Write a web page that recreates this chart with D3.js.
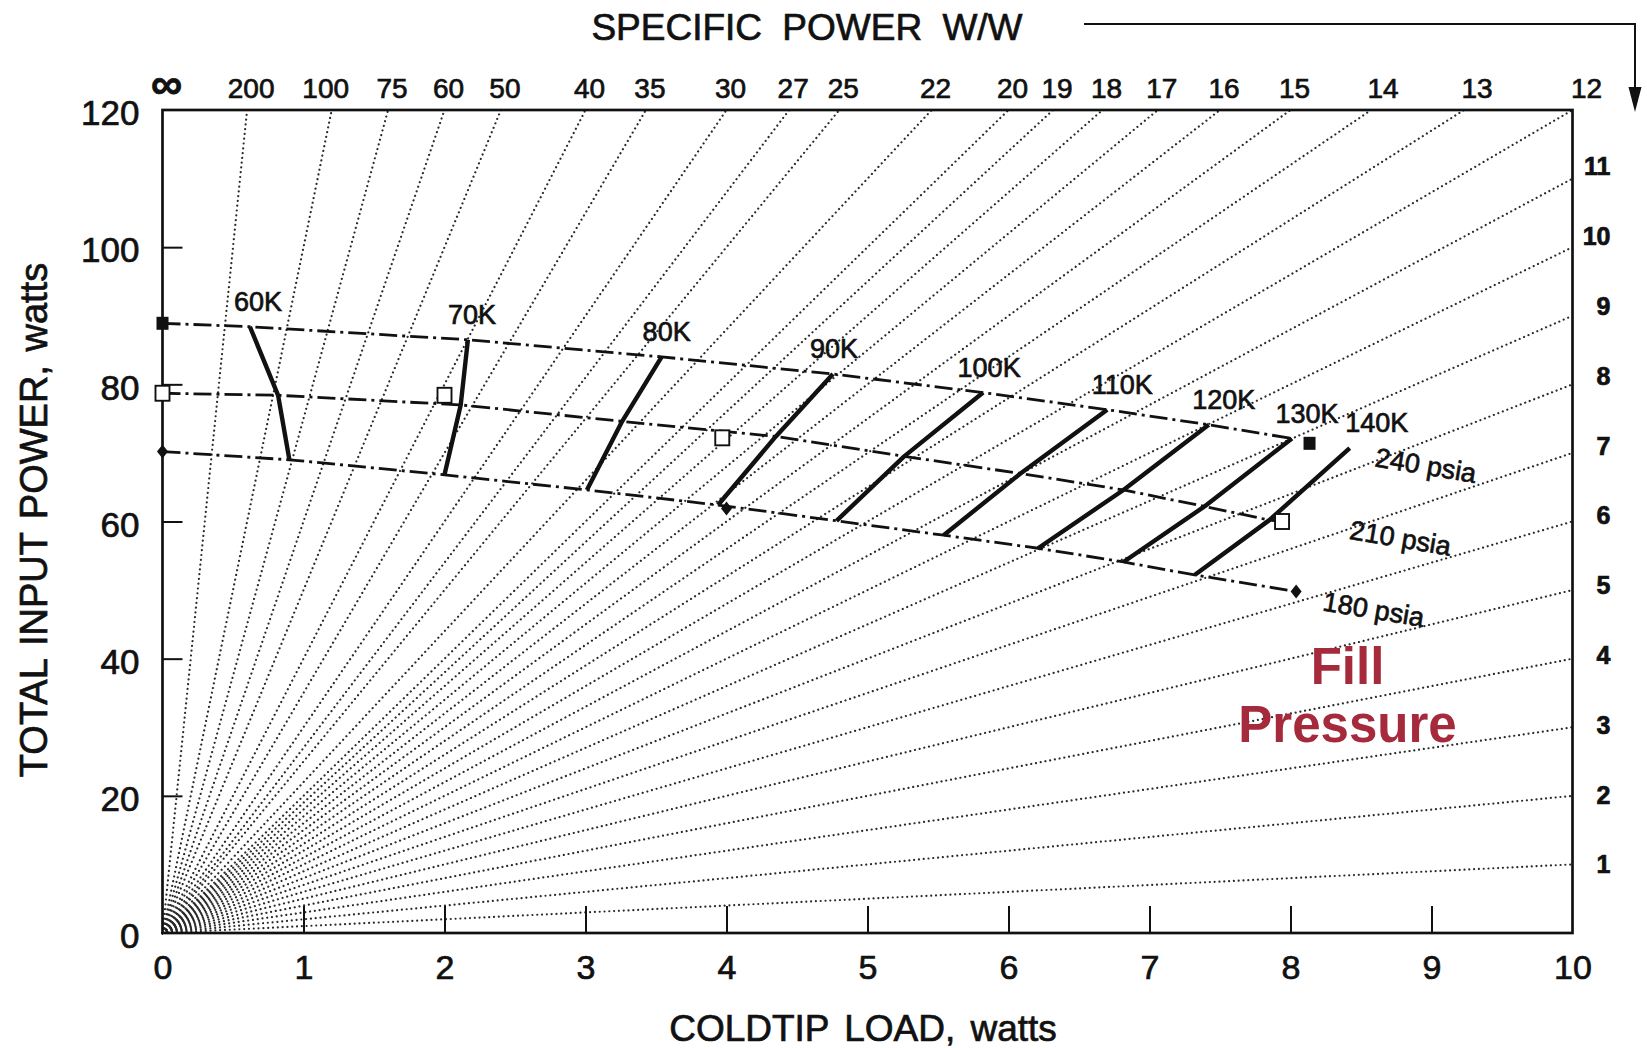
<!DOCTYPE html>
<html>
<head>
<meta charset="utf-8">
<script src="https://cdn.jsdelivr.net/npm/d3@7"></script>
<style>
  html, body { margin: 0; padding: 0; background: #fff; }
  svg { display: block; }
  text { font-family: "Liberation Sans", Arial, Helvetica, sans-serif; fill: #111; stroke: #111; stroke-width: 0.7px; }
  text.annotation { stroke: none; }
</style>
</head>
<body>
<script>
// Specific power rays (W/W): labelled along the top edge and down the right edge
const topSpecific = [Infinity, 200, 100, 75, 60, 50, 40, 35, 30, 27, 25, 22, 20, 19, 18, 17, 16, 15, 14, 13, 12];
const rightSpecific = [11, 10, 9, 8, 7, 6, 5, 4, 3, 2, 1];

// Axis ticks
const loadTicks = [0, 1, 2, 3, 4, 5, 6, 7, 8, 9, 10];
const powerTicks = [0, 20, 40, 60, 80, 100, 120];

// Cold-tip temperature lines, one point per fill pressure
const temperatures = ["60K", "70K", "80K", "90K", "100K", "110K", "120K", "130K", "140K"];
const load180 = [0.90, 2.00, 3.01, 3.94, 4.78, 5.54, 6.21, 6.815, 7.32];
const power180 = [69.0, 66.8, 64.6, 62.4, 60.1, 58.0, 56.1, 54.1, 52.2];
const load210 = [0.82, 2.115, 3.26, 4.35, 5.26, 6.085, 6.815, 7.39, 7.85];
const power210 = [78.4, 77.0, 74.6, 72.4, 69.5, 67.0, 64.6, 62.2, 60.2];
const load240 = [0.62, 2.166, 3.54, 4.755, 5.82, 6.70, 7.42, 8.01, 8.42];
const power240 = [88.4, 86.5, 84.0, 81.5, 78.8, 76.3, 74.1, 72.1, 70.7];

// Measured points for each fill pressure
const pressures = ["180 psia", "210 psia", "240 psia"];
const marker180Load = [0, 4.0, 8.04];
const marker180Power = [70.2, 61.9, 49.8];
const marker210Load = [0, 2.0, 3.97, 7.94];
const marker210Power = [78.7, 78.4, 72.2, 60.0];
const marker240Load = [0, 8.135];
const marker240Power = [88.9, 71.4];
// how many temperature points each pressure curve runs through, and whether it runs on to its last measured point
const curveReach = [9, 9, 8];
const curveTail = [true, true, false];

// ---- layout ----
const W = 1647, H = 1048;
const plotLeft = 162.5, plotRight = 1572.5, plotTop = 110, plotBottom = 933;

const svg = d3.select("body").append("svg").attr("width", W).attr("height", H);
svg.append("rect").attr("width", W).attr("height", H).attr("fill", "#fff");

const x = d3.scaleLinear().domain([0, 10]).range([plotLeft, plotRight]);
const y = d3.scaleLinear().domain([0, 120]).range([plotBottom, plotTop]);

// ---- dotted specific-power rays from the origin ----
const rays = topSpecific.filter(s => isFinite(s)).concat(rightSpecific);
const rayEnd = s => (s * 10 >= 120 ? [120 / s, 120] : [10, s * 10]);
svg.append("g").selectAll("line").data(rays).join("line")
  .attr("x1", x(0)).attr("y1", y(0))
  .attr("x2", s => x(rayEnd(s)[0]))
  .attr("y2", s => y(rayEnd(s)[1]))
  .attr("stroke", "#2a2a2a")
  .attr("stroke-width", 2.2)
  .attr("stroke-linecap", "round")
  .attr("stroke-dasharray", "0.01 4.8");

// ---- axes ----
const axisFont = 34;
const gx = svg.append("g").attr("transform", `translate(0,${plotBottom})`);
gx.call(d3.axisBottom(x).tickValues(loadTicks.slice(1, -1)).tickSize(-27).tickFormat(""));
gx.select(".domain").remove();
gx.selectAll(".tick line").attr("stroke", "#111").attr("stroke-width", 2);

const gxl = svg.append("g").attr("transform", `translate(0,${plotBottom})`);
gxl.call(d3.axisBottom(x).tickValues(loadTicks).tickSize(0).tickPadding(22).tickFormat(d3.format("d")));
gxl.select(".domain").remove();
gxl.selectAll("text").attr("font-size", axisFont).attr("fill", "#111")
  .style("font-family", "'Liberation Sans', Arial, sans-serif");

const gy = svg.append("g").attr("transform", `translate(${plotLeft},0)`);
gy.call(d3.axisLeft(y).tickValues(powerTicks.slice(1, -1)).tickSize(-20).tickFormat(""));
gy.select(".domain").remove();
gy.selectAll(".tick line").attr("stroke", "#111").attr("stroke-width", 2);

const gyl = svg.append("g").attr("transform", `translate(${plotLeft},0)`);
gyl.call(d3.axisLeft(y).tickValues(powerTicks).tickSize(0).tickPadding(23).tickFormat(d3.format("d")));
gyl.select(".domain").remove();
gyl.selectAll("text").attr("font-size", axisFont + 1).attr("dy", "0.42em").attr("fill", "#111")
  .style("font-family", "'Liberation Sans', Arial, sans-serif");

// top scale: specific power at the upper edge
const topNudge = { "100": -10, "14": 8, "13": 9, "12": 10 };
svg.append("g").selectAll("text").data(topSpecific).join("text")
  .attr("x", s => (isFinite(s) ? x(120 / s) : x(0)) + 4 + (topNudge[String(s)] || 0))
  .attr("y", s => (isFinite(s) ? 98 : 99))
  .attr("text-anchor", "middle")
  .attr("font-size", s => (isFinite(s) ? 28 : 44))
  .attr("font-weight", s => (isFinite(s) ? "normal" : "bold"))
  .text(s => (isFinite(s) ? String(s) : "∞"));

// right scale: specific power down the right edge
svg.append("g").selectAll("text").data(rightSpecific).join("text")
  .attr("x", plotRight + 38)
  .attr("y", s => y(s * 10) - (s - 1) * 1.23 + 9)
  .attr("text-anchor", "end")
  .attr("font-size", 25)
  .attr("font-weight", "bold")
  .text(s => String(s));

// plot frame
svg.append("rect")
  .attr("x", plotLeft).attr("y", plotTop)
  .attr("width", plotRight - plotLeft).attr("height", plotBottom - plotTop)
  .attr("fill", "none").attr("stroke", "#111").attr("stroke-width", 2.7);

// ---- pressure curves (dash-dot) ----
const tempPts = [
  load180.map((l, i) => [l, power180[i]]),
  load210.map((l, i) => [l, power210[i]]),
  load240.map((l, i) => [l, power240[i]])
];
const markerPts = [
  marker180Load.map((l, i) => [l, marker180Power[i]]),
  marker210Load.map((l, i) => [l, marker210Power[i]]),
  marker240Load.map((l, i) => [l, marker240Power[i]])
];
const curves = pressures.map((p, k) => {
  const pts = [markerPts[k][0]].concat(tempPts[k].slice(0, curveReach[k]));
  if (curveTail[k]) pts.push(markerPts[k][markerPts[k].length - 1]);
  return pts;
});
const line = d3.line().x(d => x(d[0])).y(d => y(d[1]));
svg.append("g").selectAll("path").data(curves).join("path")
  .attr("d", line)
  .attr("fill", "none")
  .attr("stroke", "#111")
  .attr("stroke-width", 2.8)
  .attr("stroke-dasharray", "18 5 3 5");

// ---- temperature lines (solid) ----
const tempLines = temperatures.map((t, i) => [tempPts[0][i], tempPts[1][i], tempPts[2][i]]);
svg.append("g").selectAll("path").data(tempLines).join("path")
  .attr("d", line)
  .attr("fill", "none")
  .attr("stroke", "#111")
  .attr("stroke-width", 4.4)
  .attr("stroke-linejoin", "round");

const tempLabelDx = [8, 4, 5, 1, 6, 15, 15, 15, 27];
svg.append("g").selectAll("text").data(temperatures).join("text")
  .attr("x", (t, i) => x(load240[i]) + tempLabelDx[i])
  .attr("y", (t, i) => y(power240[i]) - 16)
  .attr("text-anchor", "middle")
  .attr("font-size", 27)
  .text(t => t);

// ---- measured points ----
const mk = svg.append("g");
mk.selectAll("rect.f").data(markerPts[2]).join("rect").attr("class", "f")
  .attr("x", d => x(d[0]) - 6).attr("y", d => y(d[1]) - 6.5)
  .attr("width", 12).attr("height", 13).attr("fill", "#111");
mk.selectAll("rect.o").data(markerPts[1]).join("rect").attr("class", "o")
  .attr("x", d => x(d[0]) - 7).attr("y", d => y(d[1]) - 7.5)
  .attr("width", 14).attr("height", 15)
  .attr("fill", "#fff").attr("stroke", "#111").attr("stroke-width", 1.9);
mk.selectAll("path").data(markerPts[0]).join("path")
  .attr("transform", d => `translate(${x(d[0])},${y(d[1])})`)
  .attr("d", "M0,-7L5.5,0L0,7L-5.5,0Z")
  .attr("fill", "#111");

// pressure labels
const pressureLabelAt = [[8.59, 47.2], [8.78, 57.6], [8.96, 68.2]];
svg.append("g").selectAll("text").data(pressures).join("text")
  .attr("transform", (p, k) => `translate(${x(pressureLabelAt[k][0])},${y(pressureLabelAt[k][1])}) rotate(9.5)`)
  .attr("text-anchor", "middle")
  .attr("dy", "0.35em")
  .attr("font-size", 27)
  .text(p => p);

// annotation, two lines
const ann = svg.append("g").attr("font-weight", "bold").attr("font-size", 51).attr("text-anchor", "middle");
ann.append("text").attr("class", "annotation").attr("x", 1347.5).attr("y", 684).style("fill", "#a52a3c").text("Fill");
ann.append("text").attr("class", "annotation").attr("x", 1347.5).attr("y", 742).style("fill", "#a52a3c").text("Pressure");

// ---- titles ----
svg.append("text")
  .attr("x", 807).attr("y", 40)
  .attr("text-anchor", "middle")
  .attr("font-size", 37)
  .attr("word-spacing", 10)
  .text("SPECIFIC POWER W/W");

// arrow from the title down to the top-right corner scale
svg.append("path")
  .attr("d", "M1084,24H1635V90")
  .attr("fill", "none").attr("stroke", "#111").attr("stroke-width", 2);
svg.append("path")
  .attr("d", "M1628.5,87L1641.5,87L1635,112Z")
  .attr("fill", "#111");

svg.append("text")
  .attr("x", 863).attr("y", 1041)
  .attr("text-anchor", "middle")
  .attr("font-size", 37)
  .attr("word-spacing", 5)
  .text("COLDTIP LOAD, watts");

svg.append("text")
  .attr("transform", "translate(47,520) rotate(-90)")
  .attr("text-anchor", "middle")
  .attr("font-size", 38)
  .attr("word-spacing", 3)
  .text("TOTAL INPUT POWER, watts");
</script>
</body>
</html>
